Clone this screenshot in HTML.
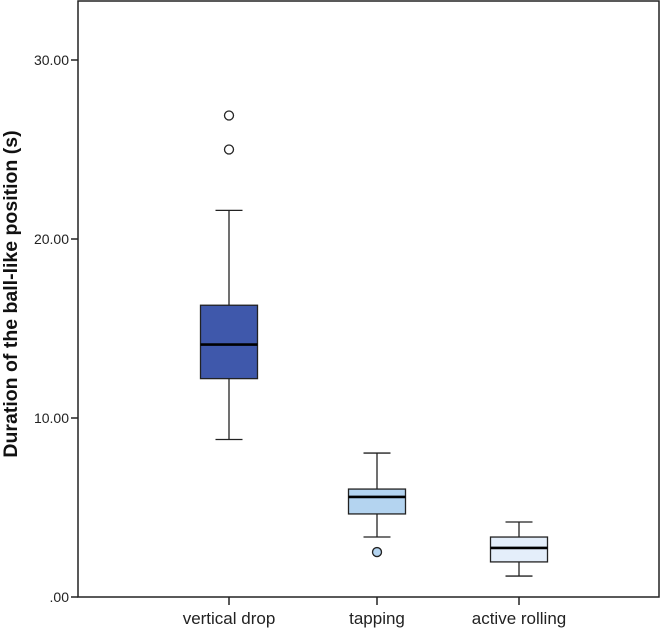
<!DOCTYPE html>
<html><head><meta charset="utf-8"><style>
html,body{margin:0;padding:0;background:#fff;}
svg{display:block;font-family:"Liberation Sans",Arial,sans-serif;}
</style></head><body>
<svg id="chart" width="660" height="631" viewBox="0 0 660 631" xmlns="http://www.w3.org/2000/svg">
<rect x="78" y="1" width="581" height="596" fill="#fff" stroke="#222" stroke-width="1.5"/>
<g id="marks"></g>
<text transform="translate(17,294) rotate(-90)" text-anchor="middle" font-size="19.5" font-weight="bold" fill="#111">Duration of the ball-like position (s)</text>
</svg>
<script>
const categories = ["vertical drop", "tapping", "active rolling"];
const whiskerLow = [8.8, 3.35, 1.17];
const q1 = [12.2, 4.64, 1.96];
const median = [14.1, 5.59, 2.74];
const q3 = [16.3, 6.03, 3.35];
const whiskerHigh = [21.6, 8.04, 4.19];
const outliers = [[25.0, 26.9], [2.51], []];
const yTicks = [0, 10, 20, 30];
const yTickLabels = [".00", "10.00", "20.00", "30.00"];
const fills = ["#3f58ab", "#b4d4f0", "#e4eefa"];

const NS = "http://www.w3.org/2000/svg";
const g = document.getElementById("marks");
const y = v => 597 - v * 17.9;
const catX = [229, 377, 519];
const x = i => catX[i];
function mk(tag, attrs, parent) {
  const e = document.createElementNS(NS, tag);
  for (const k in attrs) e.setAttribute(k, attrs[k]);
  (parent || g).appendChild(e);
  return e;
}
yTicks.forEach((t, i) => {
  const l = mk("line", {x1: 71, x2: 78, y1: y(t), y2: y(t), stroke: "#222", "stroke-width": 1.5});
  
  
  const tx = mk("text", {x: 69, y: y(t) + 5, "text-anchor": "end", "font-size": 14, fill: "#222"});
  tx.textContent = yTickLabels[i];
  
  
});
categories.forEach((c, i) => {
  const cx = x(i), bw = 57, cw = 27;
  const grp = mk("g", {});
  
  
  mk("line", {x1: cx, x2: cx, y1: y(whiskerHigh[i]), y2: y(q3[i]), stroke: "#222", "stroke-width": 1.3}, grp);
  mk("line", {x1: cx, x2: cx, y1: y(q1[i]), y2: y(whiskerLow[i]), stroke: "#222", "stroke-width": 1.3}, grp);
  mk("line", {x1: cx - cw/2, x2: cx + cw/2, y1: y(whiskerHigh[i]), y2: y(whiskerHigh[i]), stroke: "#222", "stroke-width": 1.3}, grp);
  mk("line", {x1: cx - cw/2, x2: cx + cw/2, y1: y(whiskerLow[i]), y2: y(whiskerLow[i]), stroke: "#222", "stroke-width": 1.3}, grp);
  mk("rect", {x: cx - bw/2, y: y(q3[i]), width: bw, height: y(q1[i]) - y(q3[i]), fill: fills[i], stroke: "#222", "stroke-width": 1.3}, grp);
  mk("line", {x1: cx - bw/2, x2: cx + bw/2, y1: y(median[i]), y2: y(median[i]), stroke: "#000", "stroke-width": 2.6}, grp);
  outliers[i].forEach(o => {
    const p = mk("circle", {cx: cx, cy: y(o), r: 4.5, fill: i === 0 ? "#fff" : fills[i], stroke: "#222", "stroke-width": 1.3}, grp);
    
    
  });
  const tk = mk("line", {x1: cx, x2: cx, y1: 597, y2: 605, stroke: "#222", "stroke-width": 1.5});
  
  
  const lb = mk("text", {x: cx, y: 624, "text-anchor": "middle", "font-size": 17, fill: "#222"});
  lb.textContent = c;
  
  
});
</script>
</body></html>
